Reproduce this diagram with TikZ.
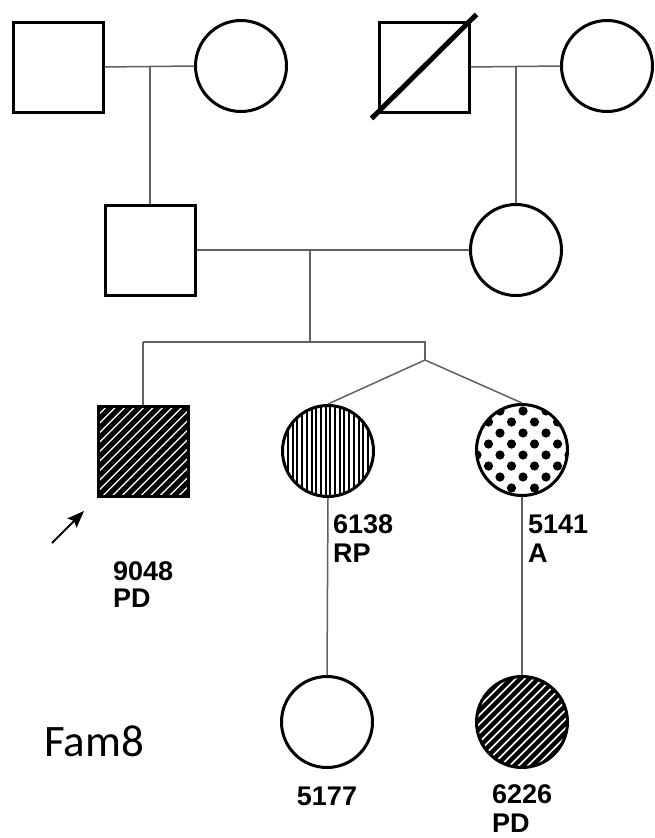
\documentclass[tikz,border=0pt]{standalone}
\usepackage{fontspec}
\setmainfont{Liberation Sans}
\newfontfamily\famfont{Carlito}
\usetikzlibrary{arrows.meta,calc}
\begin{document}
\begin{tikzpicture}[x=1pt,y=-1pt,
  male/.style={draw, line width=3pt, rectangle, minimum size=90pt, inner sep=0pt},
  female/.style={draw, line width=3pt, circle, minimum size=91pt, inner sep=0pt},
  conn/.style={draw=black!62, line width=1.5pt},
  lab/.style={font=\bfseries\fontsize{27}{29}\selectfont, inner sep=0pt, anchor=base west},
  diagstripes/.style 2 args={path picture={
    \foreach \i in {-16,...,16}
      \draw[line width=#1, shift={(path picture bounding box.center)}]
        (\i*#2 pt-70pt,-70pt) -- (\i*#2 pt+70pt,70pt);
  }},
  vstripes/.style={path picture={
    \foreach \i in {-49.35,-44.65,...,50}
      \draw[line width=2pt, shift={(path picture bounding box.center)}]
        (\i pt,-60pt) -- (\i pt,60pt);
  }},
  dotted fill/.style={path picture={
    \foreach \n in {-1,...,8}{
      \foreach \k in {-3,...,3}{
        \pgfmathsetmacro\xx{23*\k+11.5*mod(\n,2)+1}
        \pgfmathsetmacro\yy{39-11*\n}
        \fill[shift={(path picture bounding box.center)}] (\xx pt,\yy pt) circle[radius=4.6pt];
      }}
  }}
]
\useasboundingbox[fill=white] (0,0) rectangle (655,838);

% generation I
\node[male]   (gpA) at (58,67) {};
\node[female] (gmA) at (241,66) {};
\node[male]   (gpB) at (424,67) {};
\node[female] (gmB) at (607,66) {};
\draw[line width=5pt] ($(gpB.south west)+(-6pt,-5pt)$) -- ($(gpB.north east)+(6pt,6pt)$);

% generation II
\node[male]   (fa) at (150,250) {};
\node[female] (mo) at (516,250) {};

% generation III
\node[male, diagstripes={5pt}{9.5}] (pro) at (143,451) {};
\node[female, vstripes] (s6138) at (328,451) {};
\node[female, dotted fill] (s5141) at (522,450) {};

% generation IV
\node[female] (d5177) at (327,722) {};
\node[female, diagstripes={4.3pt}{9}] (d6226) at (522,722) {};

% connectors
\coordinate (mA) at (150,66);
\coordinate (mB) at (516,66);
\coordinate (mC) at (310,250);
\coordinate (sibC) at (310,342);
\coordinate (sibL) at (143,342);
\coordinate (sibR) at (425,342);
\coordinate (twin) at (425,360);

\draw[conn] (gpA.east) -- (gmA.west);
\draw[conn] (mA) -- (fa.north);
\draw[conn] (gpB.east) -- (gmB.west);
\draw[conn] (mB) -- (mo.north);
\draw[conn] (fa.east) -- (mo.west);
\draw[conn] (mC) -- (sibC);
\draw[conn] (sibL) -- (sibR) -- (twin);
\draw[conn] (sibL) -- (pro.north);
\draw[conn] (twin) -- (s6138.north);
\draw[conn] (twin) -- (s5141.north);
\draw[conn] (s6138.south) -- (d5177.north);
\draw[conn] (s5141.south) -- (d6226.north);

% proband arrow
\coordinate (arrS) at (52,543);
\coordinate (arrE) at (84,511);
\draw[line width=2pt, -{Stealth[length=17pt,width=13pt,inset=3pt]}] (arrS) -- (arrE);

% labels
\node[lab] (l9048) at (113,580) {9048};
\node[lab] (l9048b) at (113,607) {PD};
\node[lab] (l6138) at (333,533) {6138};
\node[lab] (l6138b) at (333,562) {RP};
\node[lab] (l5141) at (528,533) {5141};
\node[lab] (l5141b) at (528,562) {A};
\node[lab, anchor=base] (l5177) at (327,805) {5177};
\node[lab] (l6226) at (492,803) {6226};
\node[lab] (l6226b) at (492,832) {PD};

\node[font=\famfont\fontsize{45}{50}\selectfont, inner sep=0pt, anchor=base west] (fam) at (44,756) {Fam8};
\end{tikzpicture}
\end{document}
